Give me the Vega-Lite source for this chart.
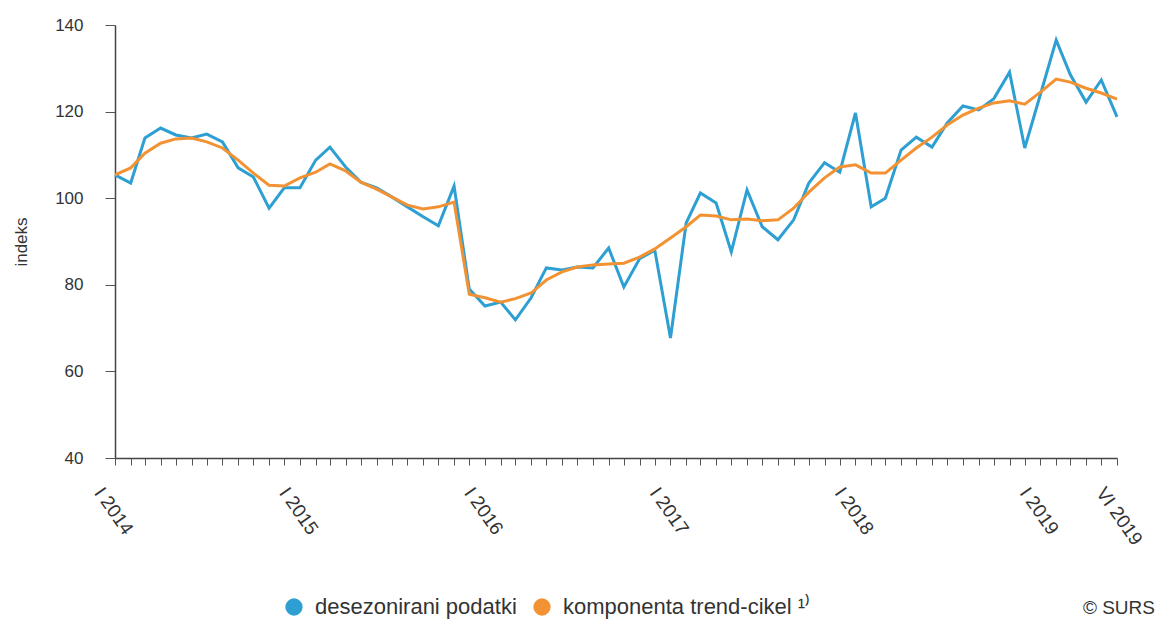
{
  "$schema": "https://vega.github.io/schema/vega-lite/v6.json",
  "autosize": {"type": "none"},
  "width": 1002,
  "height": 433,
  "padding": {"left": 115, "top": 25, "right": 43, "bottom": 161},
  "background": "white",
  "config": {
    "font": "Liberation Sans",
    "view": {"stroke": null},
    "axis": {"labelColor": "#333", "titleColor": "#333", "labelFont": "Liberation Sans", "titleFont": "Liberation Sans"}
  },
  "title": {
    "text": "© SURS",
    "orient": "bottom",
    "anchor": "end",
    "frame": "group",
    "fontSize": 19,
    "fontWeight": "normal",
    "color": "#333",
    "font": "Liberation Sans",
    "dx": 38,
    "offset": -19
  },
  "data": {
    "values": [
      {"m": "2014-01-01", "d": 105.4, "t": 105.4},
      {"m": "2014-02-01", "d": 103.5, "t": 107.0},
      {"m": "2014-03-01", "d": 113.9, "t": 110.4},
      {"m": "2014-04-01", "d": 116.2, "t": 112.7},
      {"m": "2014-05-01", "d": 114.6, "t": 113.7},
      {"m": "2014-06-01", "d": 113.9, "t": 113.9},
      {"m": "2014-07-01", "d": 114.8, "t": 113.0},
      {"m": "2014-08-01", "d": 113.0, "t": 111.6},
      {"m": "2014-09-01", "d": 107.0, "t": 108.8},
      {"m": "2014-10-01", "d": 104.9, "t": 105.8},
      {"m": "2014-11-01", "d": 97.7, "t": 103.0},
      {"m": "2014-12-01", "d": 102.4, "t": 102.8},
      {"m": "2015-01-01", "d": 102.4, "t": 104.7},
      {"m": "2015-02-01", "d": 108.8, "t": 106.0},
      {"m": "2015-03-01", "d": 111.8, "t": 107.9},
      {"m": "2015-04-01", "d": 107.2, "t": 106.3},
      {"m": "2015-05-01", "d": 103.7, "t": 103.7},
      {"m": "2015-06-01", "d": 102.4, "t": 102.1},
      {"m": "2015-07-01", "d": 100.3, "t": 100.3},
      {"m": "2015-08-01", "d": 98.0, "t": 98.4},
      {"m": "2015-09-01", "d": 95.7, "t": 97.5},
      {"m": "2015-10-01", "d": 93.6, "t": 98.0},
      {"m": "2015-11-01", "d": 102.8, "t": 99.1},
      {"m": "2015-12-01", "d": 79.0, "t": 77.8},
      {"m": "2016-01-01", "d": 75.1, "t": 77.0},
      {"m": "2016-02-01", "d": 76.0, "t": 76.0},
      {"m": "2016-03-01", "d": 71.9, "t": 76.8},
      {"m": "2016-04-01", "d": 77.0, "t": 78.1},
      {"m": "2016-05-01", "d": 83.9, "t": 81.1},
      {"m": "2016-06-01", "d": 83.4, "t": 83.0},
      {"m": "2016-07-01", "d": 84.1, "t": 84.1},
      {"m": "2016-08-01", "d": 83.9, "t": 84.6},
      {"m": "2016-09-01", "d": 88.5, "t": 84.8},
      {"m": "2016-10-01", "d": 79.5, "t": 85.0},
      {"m": "2016-11-01", "d": 86.0, "t": 86.4},
      {"m": "2016-12-01", "d": 88.0, "t": 88.3},
      {"m": "2017-01-01", "d": 67.7, "t": 90.8},
      {"m": "2017-02-01", "d": 94.3, "t": 93.4},
      {"m": "2017-03-01", "d": 101.2, "t": 96.1},
      {"m": "2017-04-01", "d": 98.9, "t": 95.9},
      {"m": "2017-05-01", "d": 87.6, "t": 95.0},
      {"m": "2017-06-01", "d": 101.9, "t": 95.2},
      {"m": "2017-07-01", "d": 93.4, "t": 94.8},
      {"m": "2017-08-01", "d": 90.4, "t": 95.0},
      {"m": "2017-09-01", "d": 95.0, "t": 97.7},
      {"m": "2017-10-01", "d": 103.5, "t": 101.4},
      {"m": "2017-11-01", "d": 108.2, "t": 104.7},
      {"m": "2017-12-01", "d": 106.0, "t": 107.2},
      {"m": "2018-01-01", "d": 119.7, "t": 107.7},
      {"m": "2018-02-01", "d": 98.0, "t": 105.8},
      {"m": "2018-03-01", "d": 100.0, "t": 105.8},
      {"m": "2018-04-01", "d": 111.1, "t": 108.8},
      {"m": "2018-05-01", "d": 114.1, "t": 111.6},
      {"m": "2018-06-01", "d": 111.8, "t": 114.1},
      {"m": "2018-07-01", "d": 117.4, "t": 116.9},
      {"m": "2018-08-01", "d": 121.3, "t": 119.2},
      {"m": "2018-09-01", "d": 120.4, "t": 120.8},
      {"m": "2018-10-01", "d": 123.0, "t": 122.0},
      {"m": "2018-11-01", "d": 129.1, "t": 122.5},
      {"m": "2018-12-01", "d": 111.6, "t": 121.7},
      {"m": "2019-01-01", "d": 124.0, "t": 124.5},
      {"m": "2019-02-01", "d": 136.5, "t": 127.5},
      {"m": "2019-03-01", "d": 128.5, "t": 126.8},
      {"m": "2019-04-01", "d": 122.2, "t": 125.4},
      {"m": "2019-05-01", "d": 127.3, "t": 124.3},
      {"m": "2019-06-01", "d": 118.8, "t": 122.9}
    ]
  },
  "transform": [
    {"fold": ["d", "t"], "as": ["series", "value"]}
  ],
  "mark": {"type": "line", "strokeWidth": 3, "strokeJoin": "miter", "interpolate": "linear"},
  "encoding": {
    "x": {
      "field": "m",
      "type": "temporal",
      "scale": {"type": "utc", "nice": false},
      "axis": {
        "title": null,
        "grid": false,
        "tickCount": {"interval": "month", "step": 1},
        "labelExpr": "utcmonth(datum.value) == 0 ? 'I ' + utcyear(datum.value) : ((utcyear(datum.value) == 2019 && utcmonth(datum.value) == 5) ? 'VI 2019' : '')",
        "labelAngle": 55,
        "labelAlign": "left",
        "labelBaseline": "middle",
        "labelOverlap": false,
        "labelFlush": false,
        "labelFontSize": 19,
        "labelOffset": -17,
        "labelPadding": 24,
        "tickSize": 7,
        "tickColor": "#555",
        "domainColor": "#444",
        "domainWidth": 1.5
      }
    },
    "y": {
      "field": "value",
      "type": "quantitative",
      "scale": {"domain": [40, 140], "nice": false, "zero": false},
      "axis": {
        "title": "indeks",
        "values": [40, 60, 80, 100, 120, 140],
        "grid": false,
        "tickSize": 10,
        "tickColor": "#555",
        "domainColor": "#444",
        "domainWidth": 1.5,
        "labelFontSize": 17,
        "labelPadding": 22,
        "titleFontSize": 17,
        "titleFontWeight": "normal",
        "titlePadding": 24
      }
    },
    "color": {
      "field": "series",
      "type": "nominal",
      "scale": {"domain": ["d", "t"], "range": ["#2e9fd2", "#f39233"]},
      "legend": {
        "title": null,
        "orient": "none",
        "direction": "horizontal",
        "legendX": 168,
        "legendY": 571,
        "symbolType": "circle",
        "symbolStrokeWidth": 0,
        "symbolSize": 300,
        "symbolOpacity": 1,
        "labelFontSize": 22,
        "labelColor": "#333",
        "labelFont": "Liberation Sans",
        "labelLimit": 500,
        "labelOffset": 10,
        "columnPadding": 14,
        "labelExpr": "datum.value == 'd' ? 'desezonirani podatki' : 'komponenta trend-cikel ¹⁾'",
        "encode": {
          "symbols": {"update": {"fill": {"scale": "color", "field": "value"}, "fillOpacity": {"value": 1}}}
        }
      }
    }
  }
}
